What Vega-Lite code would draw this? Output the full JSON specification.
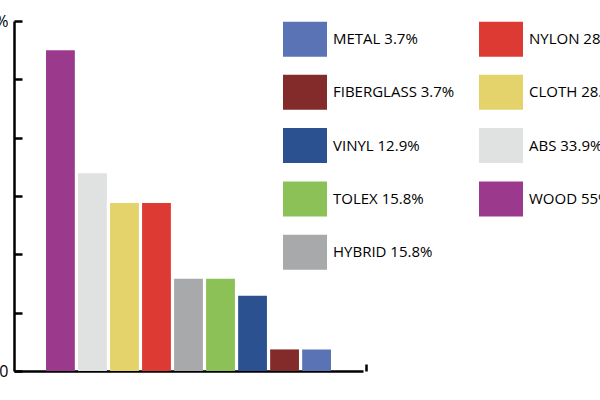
{
  "$schema": "https://vega.github.io/schema/vega-lite/v6.json",
  "width": 349,
  "height": 350,
  "autosize": "none",
  "padding": {"left": 14, "top": 21, "right": 237, "bottom": 29},
  "data": {
    "values": [
      {"material": "WOOD", "label": "WOOD 55%", "share": 55},
      {"material": "ABS", "label": "ABS 33.9%", "share": 33.9},
      {"material": "CLOTH", "label": "CLOTH 28.8%", "share": 28.8},
      {"material": "NYLON", "label": "NYLON 28.8%", "share": 28.8},
      {"material": "HYBRID", "label": "HYBRID 15.8%", "share": 15.8},
      {"material": "TOLEX", "label": "TOLEX 15.8%", "share": 15.8},
      {"material": "VINYL", "label": "VINYL 12.9%", "share": 12.9},
      {"material": "FIBERGLASS", "label": "FIBERGLASS 3.7%", "share": 3.7},
      {"material": "METAL", "label": "METAL 3.7%", "share": 3.7}
    ]
  },
  "mark": {"type": "bar"},
  "encoding": {
    "x": {
      "field": "material",
      "type": "nominal",
      "sort": null,
      "title": null,
      "scale": {"paddingInner": 0.1, "paddingOuter": 1.16},
      "axis": {
        "labels": false,
        "domainColor": "black",
        "domainWidth": 2.5,
        "values": ["METAL"],
        "bandPosition": 0.5,
        "tickSize": -7,
        "tickOffset": 49,
        "tickWidth": 2.5,
        "tickColor": "black"
      }
    },
    "y": {
      "field": "share",
      "type": "quantitative",
      "title": null,
      "scale": {"domain": [0, 60]},
      "axis": {
        "grid": false,
        "values": [0, 10, 20, 30, 40, 50, 60],
        "labelExpr": "datum.value == 0 ? '0' : datum.value == 60 ? '60%' : ''",
        "domainColor": "black",
        "domainWidth": 2.5,
        "tickColor": "black",
        "tickWidth": 2.5,
        "tickSize": -8,
        "labelPadding": 14,
        "labelFont": "Open Sans",
        "labelFontSize": 16,
        "labelColor": "black"
      }
    },
    "color": {
      "field": "label",
      "type": "nominal",
      "scale": {
        "domain": ["METAL 3.7%", "FIBERGLASS 3.7%", "VINYL 12.9%", "TOLEX 15.8%", "HYBRID 15.8%", "NYLON 28.8%", "CLOTH 28.8%", "ABS 33.9%", "WOOD 55%"],
        "range": ["#5A73B5", "#832B2B", "#2B5190", "#8BC157", "#A8A9AA", "#DC3A32", "#E4D36A", "#E0E1E1", "#9B3A8C"]
      },
      "legend": {
        "title": null,
        "orient": "none",
        "legendX": 269,
        "legendY": -4,
        "padding": 0,
        "columns": 2,
        "columnPadding": 24,
        "rowPadding": 13.3,
        "symbolType": "M-1,-0.795H1V0.795H-1Z",
        "symbolSize": 1936,
        "symbolStrokeWidth": 0,
        "symbolOpacity": 1,
        "labelFont": "Open Sans",
        "labelFontSize": 15,
        "labelOffset": 6,
        "labelColor": "black",
        "labelLimit": 0
      }
    }
  },
  "config": {"view": {"stroke": null}}
}
